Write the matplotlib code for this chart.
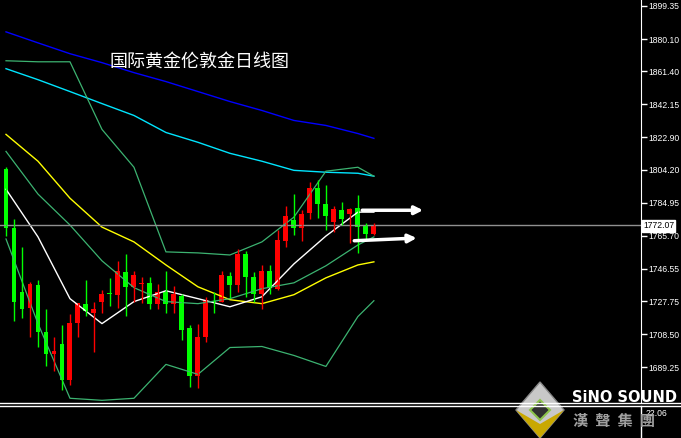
import matplotlib
matplotlib.use("Agg")
import matplotlib.pyplot as plt
from matplotlib.patches import Rectangle, Polygon
import numpy as np

plt.rcParams['font.family'] = ['Noto Sans CJK SC', 'DejaVu Sans']

opens  = [1804.7,1770,1733,1724,1737,1710,1697,1702.6,1682,1715,1726,1721,1727,1732.5,1731.5,1744.5,1736,1737.5,1738.5,1726,1733,1726,1731,1712,1684,
          1707,1728,1727,1742.6,1737,1755,1741.6,1732,1745.5,1735,1763,1775,1770,1779,1793.7,1784,1774,1781,1778.6,1782,1772,1767]
closes = [1770,1727,1723,1738,1710,1697,1699,1682,1715,1726.4,1722,1723,1732,1732,1745,1736,1743,1738.5,1726,1733,1726,1732,1711,1684,1707,
          1728.7,1727,1743,1737,1755,1742,1732,1745,1736,1763.5,1777.5,1770.5,1778.6,1793.7,1784,1777,1781.6,1775.7,1781.6,1771,1767,1772]
highs  = [1806,1775.7,1759,1739,1740,1723,1707,1714,1720,1726.4,1740,1727.5,1734.5,1741,1751,1755,1745,1742,1742,1737.5,1745,1736.5,1732,1714,1714.6,
          1730,1733,1745,1744.6,1758,1757,1744.5,1748.5,1749,1769.4,1783,1790,1780.5,1797,1798,1795.5,1783.3,1785.6,1782,1789.6,1773,1773]
lows   = [1765.8,1716.5,1718,1707,1701,1690,1687,1676,1679,1707,1719,1698,1721,1725,1724,1719,1727.5,1726.4,1723,1723,1721,1721,1705,1678,1677,
          1704,1721,1727,1729.8,1733,1730,1727,1723,1732,1734.5,1759,1766.5,1763,1775.7,1776,1769.4,1768,1772,1761.8,1756,1763.5,1766]

ma_idx = [0,4,8,12,16,20,24,28,32,36,40,44,46]
ma_blue   = [1884.3,1877.9,1871.6,1866.4,1860.6,1855.4,1849.6,1843.8,1838.6,1832.8,1829.9,1825.2,1822.4]
ma_cyan   = [1862.9,1856.5,1849.6,1842.6,1835.7,1825.8,1820.1,1813.7,1809.1,1803.8,1802.7,1802.1,1800.4]
ma_yellow = [1824.7,1809.1,1787.6,1770.8,1762.2,1748.8,1736.1,1728.6,1726.3,1731.5,1741.3,1748.8,1750.6]
ma_white  = [1792.8,1765.1,1729.2,1714.7,1727.5,1733.8,1729.2,1724.5,1730.3,1749.4,1765.6,1779.5,1779.5]
bb_upper  = [1867.5,1866.9,1866.9,1827.6,1805.6,1756.4,1755.8,1754.6,1762.2,1776.6,1803.3,1805.6,1800.4]
bb_mid    = [1814.8,1790.0,1772.0,1751.2,1735.6,1727.5,1726.3,1729.2,1735.0,1738.4,1748.3,1760.4,1765.1]
bb_lower  = [1763.9,1714.7,1671.3,1670.1,1671.3,1691.0,1685.2,1700.8,1701.4,1696.2,1689.8,1718.8,1728.0]

yticks = [1899.35,1880.10,1861.40,1842.15,1822.90,1804.20,1784.95,1765.70,1746.55,1727.75,1708.50,1689.25]
current = 1772.07
title = "国际黄金伦敦金日线图"

W, H = 681, 438
fig = plt.figure(figsize=(W/100, H/100), dpi=100, facecolor='black')
ax = fig.add_axes([0, 36/H, 641/W, 402/H])
ax.set_facecolor('black')
ax.set_xlim(-0.75, 79.4)
ax.set_ylim(1669.13, 1902.82)
for s in ['top', 'left', 'bottom']:
    ax.spines[s].set_visible(False)
ax.spines['right'].set_color('white')
ax.yaxis.tick_right()
ax.set_xticks([])
ax.set_yticks(yticks)
ax.set_yticklabels([f"{v:.2f}" for v in yticks], color='white', fontsize=6.2, family='Liberation Sans')
ax.tick_params(axis='y', colors='white', length=4, width=1, labelcolor='white', pad=1.5)

ax.plot(ma_idx, ma_blue, color='#0000ff', lw=1)
ax.plot(ma_idx, ma_cyan, color='#00e5ff', lw=1)
ax.plot(ma_idx, ma_yellow, color='#ffff00', lw=1)
ax.plot(ma_idx, ma_white, color='white', lw=1)
for b in (bb_upper, bb_mid, bb_lower):
    ax.plot(ma_idx, b, color='#3cb371', lw=0.9)

ax.axhline(current, color='#909090', lw=1)

bw = 0.62
for i, (o, c, h, l) in enumerate(zip(opens, closes, highs, lows)):
    col = '#ff0000' if c > o else '#00ff00'
    ax.vlines(i, l, h, color=col, lw=1)
    lo, hi = min(o, c), max(o, c)
    ax.add_patch(Rectangle((i - bw/2, lo), bw, max(hi - lo, 0.5), color=col, lw=0))

ax.annotate('', xy=(52.5, 1780.6), xytext=(44.2, 1780.6),
            arrowprops=dict(arrowstyle='-|>', color='white', lw=2.5, mutation_scale=12))
ax.annotate('', xy=(51.7, 1764.5), xytext=(43.2, 1762.8),
            arrowprops=dict(arrowstyle='-|>', color='white', lw=2.5, mutation_scale=12))

ax.text(13, 1867, title, color='white', fontsize=13, va='center', ha='left')

fig.text(643/W, 1 - 226/H, f"{current:.2f}", color='black', fontsize=6.2, va='center', ha='left',
         family='Liberation Sans', bbox=dict(boxstyle='square,pad=0.15', fc='white', ec='white'))

fig.add_artist(plt.Line2D([0, 1], [1 - 403/H, 1 - 403/H], color='white', lw=1))
fig.add_artist(plt.Line2D([0, 1], [1 - 406/H, 1 - 406/H], color='white', lw=1))
fig.add_artist(plt.Line2D([641/W, 641/W], [0, 1 - 406/H], color='white', lw=1))
fig.text(646/W, 1 - 413/H, "22.06", color='white', fontsize=6.2, va='center', family='Liberation Sans')

cx, cy = 540, 410
def P(x, y):
    return (x / W, 1 - y / H)
fig.add_artist(Polygon([P(cx, cy-28), P(cx+24, cy), P(cx, cy+28), P(cx-24, cy)], closed=True,
                       transform=fig.transFigure, fc='#c8c8c8', ec='#888888'))
fig.add_artist(Polygon([P(cx-24, cy), P(cx, cy+28), P(cx+24, cy), P(cx, cy+14)], closed=True,
                       transform=fig.transFigure, fc='#c9a800', ec='none'))
fig.add_artist(Polygon([P(cx, cy-10), P(cx+10, cy), P(cx, cy+10), P(cx-10, cy)], closed=True,
                       transform=fig.transFigure, fc='#303030', ec='#8bc34a', lw=1.5))
fig.text(572/W, 1 - 398/H, "SiNO SOUND", color='white', fontsize=10.5, fontweight='bold',
         va='center', ha='left', family='DejaVu Sans')
fig.text(573/W, 1 - 421/H, "漢  聲  集  團", color='#a0a0a0', fontsize=11, fontweight='bold',
         va='center', ha='left', family=['Noto Sans CJK TC', 'DejaVu Sans'])

fig.savefig('out.png', dpi=100, facecolor='black')
